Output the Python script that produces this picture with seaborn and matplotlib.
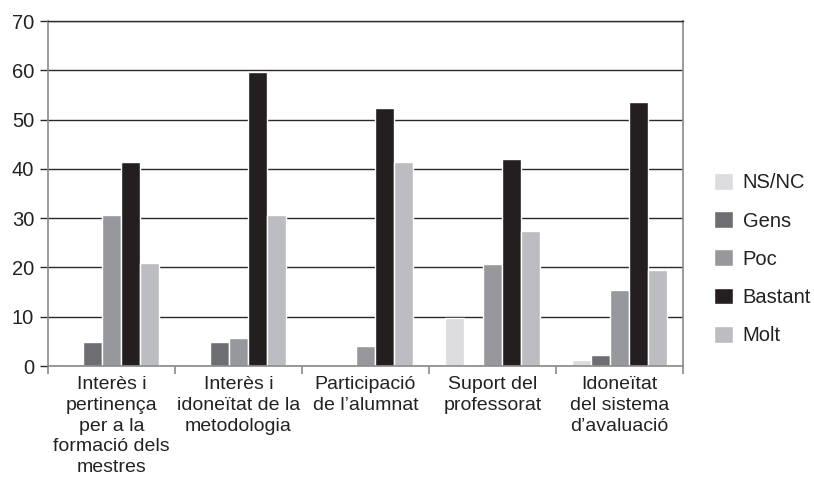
import pandas as pd
import seaborn as sns
import matplotlib.pyplot as plt
from matplotlib.ticker import FixedLocator

categories = [
    "Interès i\npertinença\nper a la\nformació dels\nmestres",
    "Interès i\nidoneïtat de la\nmetodologia",
    "Participació\nde l’alumnat",
    "Suport del\nprofessorat",
    "Idoneïtat\ndel sistema\nd’avaluació",
]
levels = ["NS/NC", "Gens", "Poc", "Bastant", "Molt"]
ns_nc = [0, 0, 0, 9.8, 1.2]
gens = [4.9, 4.9, 0, 0, 2.2]
poc = [30.6, 5.7, 4.1, 20.7, 15.4]
bastant = [41.4, 59.7, 52.3, 42.0, 53.5]
molt = [20.9, 30.6, 41.4, 27.4, 19.5]
colors = ["#dcdcde", "#6d6e72", "#97989c", "#231f20", "#bcbdc0"]

rows = []
for lev, vals in zip(levels, [ns_nc, gens, poc, bastant, molt]):
    for cat, v in zip(categories, vals):
        rows.append({"cat": cat, "level": lev, "value": v})
df = pd.DataFrame(rows)

sns.set_theme(style="white")
plt.rcParams["font.family"] = ["Liberation Sans", "DejaVu Sans"]

fig = plt.figure(figsize=(8.14, 4.8), dpi=100)
ax = fig.add_axes([0.059, 0.2375, 0.78, 0.7185])

sns.barplot(data=df, x="cat", y="value", hue="level", hue_order=levels,
            order=categories, palette=colors, width=0.75, gap=0,
            saturation=1, ax=ax, legend=True)

ax.set_ylim(0, 70)
ax.set_xlim(-0.5, 4.5)
ax.set_yticks(range(0, 71, 10))
ax.yaxis.grid(True, color="#2a2a2a", linewidth=1.0)
ax.set_axisbelow(True)
ax.set_xlabel("")
ax.set_ylabel("")

for side in ["left", "right", "bottom"]:
    ax.spines[side].set_color("#8a8a8a")
    ax.spines[side].set_linewidth(1.2)
ax.spines["top"].set_color("#2a2a2a")
ax.spines["top"].set_linewidth(1.0)

ax.tick_params(axis="y", which="major", left=True, length=6, width=1,
               color="#2a2a2a", labelsize=14.5, pad=4, labelcolor="#222222")
ax.tick_params(axis="x", which="major", length=0, labelsize=14, pad=7,
               labelcolor="#222222")
ax.xaxis.set_minor_locator(FixedLocator([-0.5, 0.5, 1.5, 2.5, 3.5, 4.5]))
ax.tick_params(axis="x", which="minor", bottom=True, length=6, width=1.2,
               color="#8a8a8a")
for lbl in ax.get_xticklabels():
    lbl.set_horizontalalignment("center")
    lbl.set_verticalalignment("top")
    lbl.set_linespacing(1.3)

handles, labels = ax.get_legend_handles_labels()
ax.legend(handles, labels, loc="center left", bbox_to_anchor=(1.021, 0.31),
          frameon=False, fontsize=14.5, handlelength=0.9, handleheight=0.9,
          labelspacing=0.94, handletextpad=0.5, labelcolor="#222222")

fig.savefig("out.png", dpi=100)
